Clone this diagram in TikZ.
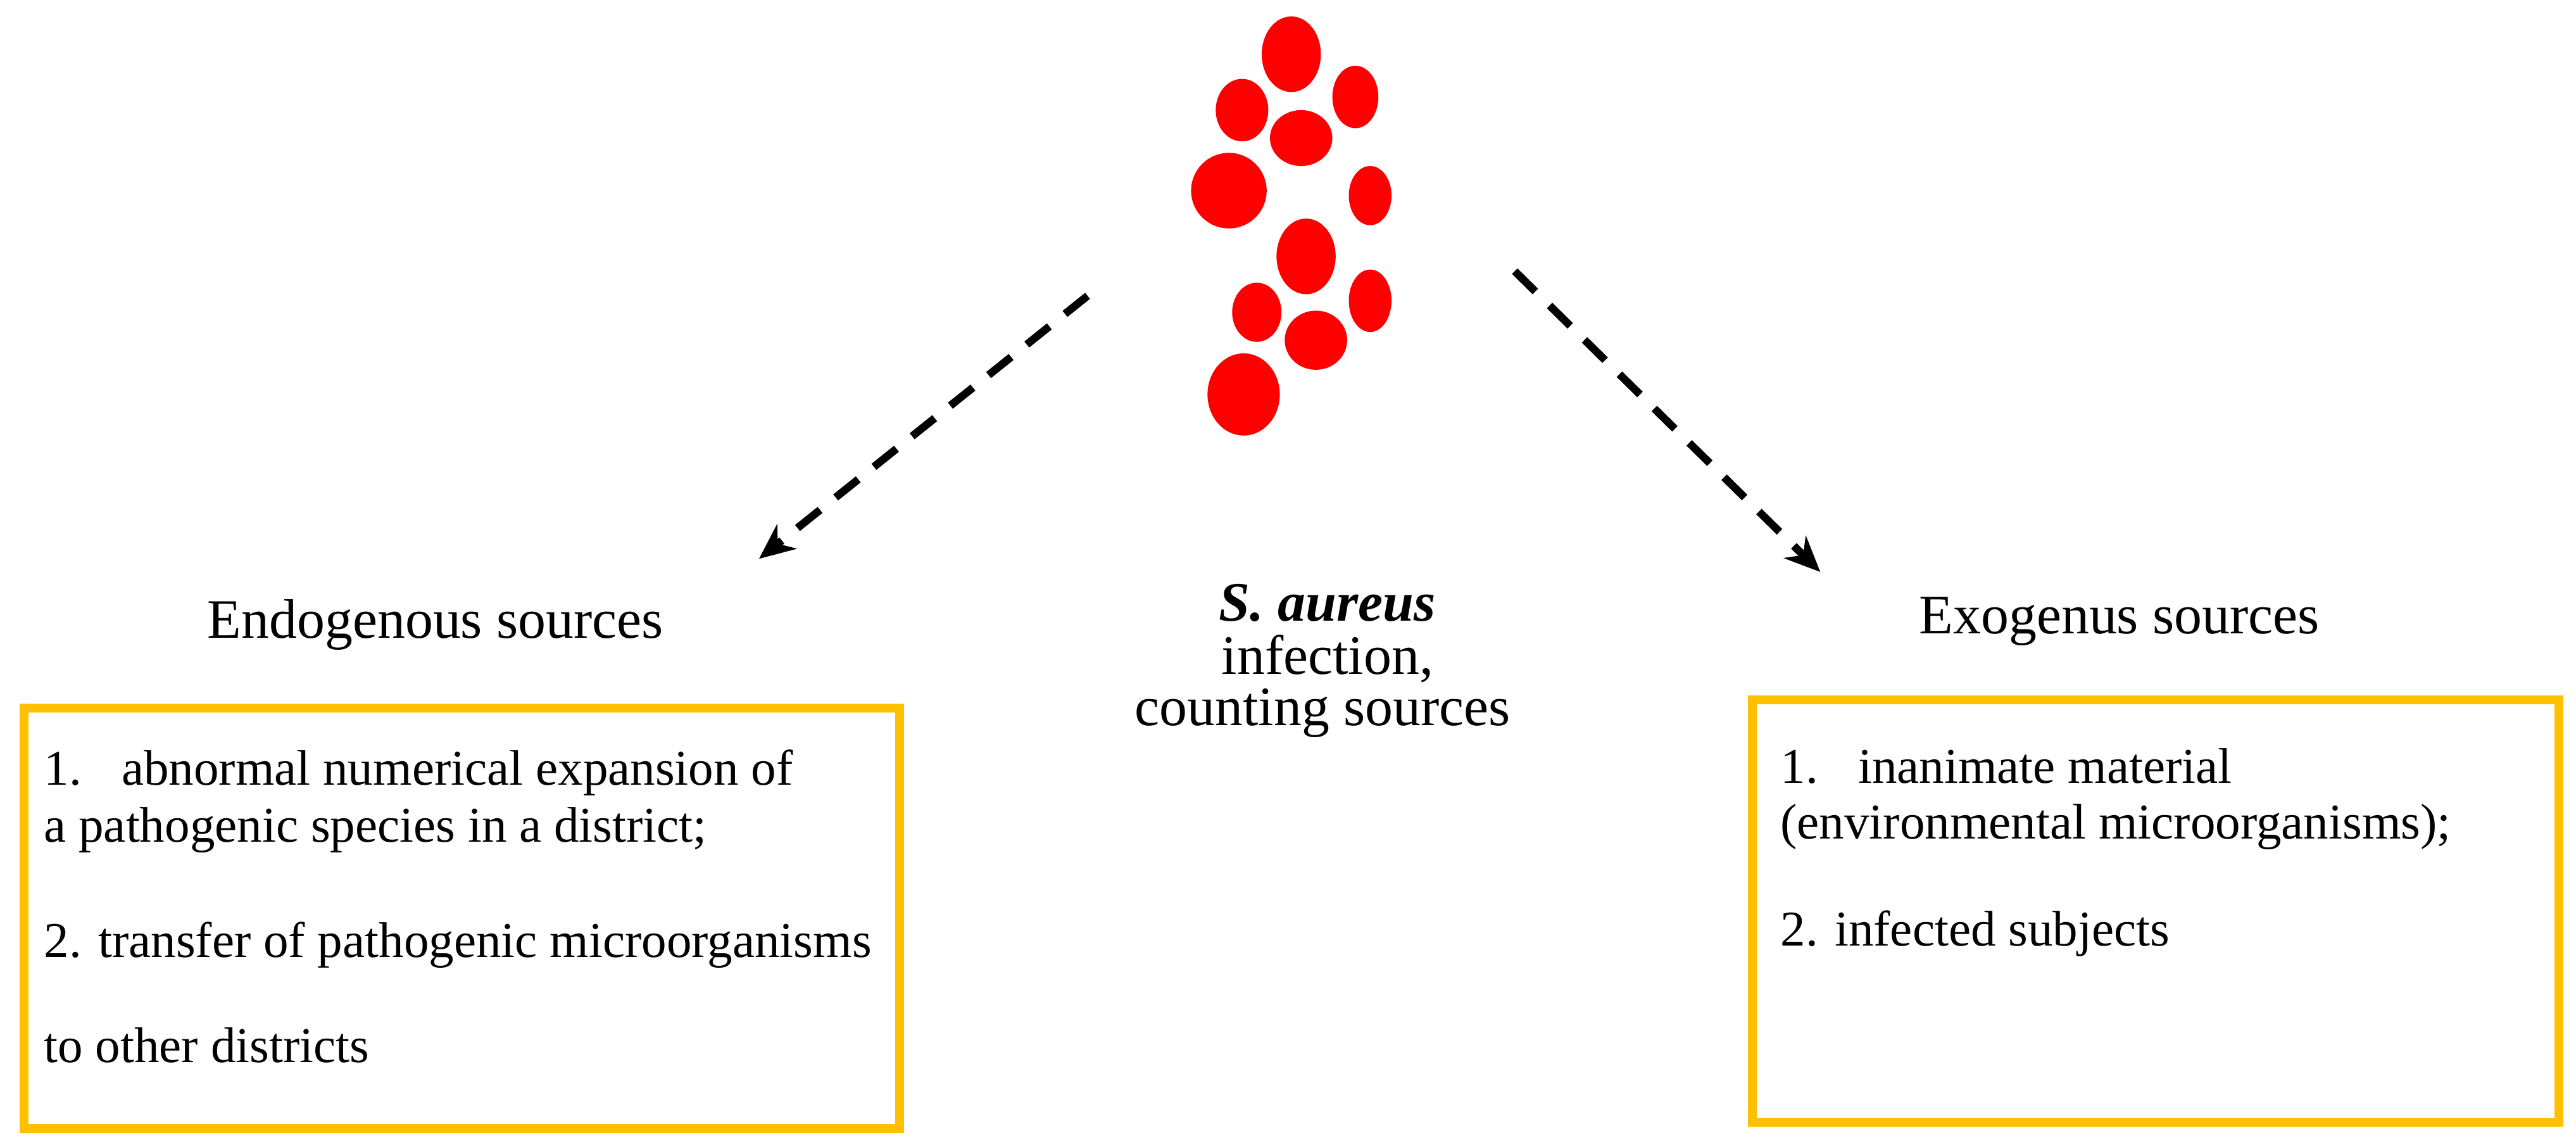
\documentclass[tikz,border=0pt]{standalone}
\usepackage{fontspec}
\usetikzlibrary{arrows.meta}
\setmainfont{Liberation Serif}
\begin{document}
\begin{tikzpicture}[x=0.02595cm,y=-0.02595cm,
 box/.style={draw={rgb,255:red,255;green,192;blue,0},line width=4pt},
 arr/.style={line width=3.5pt,dash pattern=on 13pt off 9pt,-{Stealth[length=16pt,width=14pt]}},
 head/.style={font=\fontsize{25}{29}\selectfont,inner sep=0pt},
 txt/.style={font=\fontsize{22.5}{26}\selectfont,anchor=west}]
\useasboundingbox (0,0) rectangle (1568,693.6);
\foreach \x/\y/\a/\b in {786/33/18/23,756/67/16/19,825/59/14/19,792/84/19/17,748/116/23/23,834/119/13/18,795/156/18/23,765/190/15/18,834/183/13/19,801/207/19/18,757/240/22/25}
 \fill[red] (\x,\y) ellipse [x radius=\a, y radius=\b];
\coordinate (la) at (662,180); \coordinate (lb) at (462,340);
\coordinate (ra) at (922,165); \coordinate (rb) at (1108,348);
\draw[arr] (la) -- (lb);
\draw[arr] (ra) -- (rb);
\node[box,minimum width=533*0.02595cm,minimum height=256*0.02595cm,anchor=north west] (lbox) at (12,428) {};
\node[box,minimum width=491*0.02595cm,minimum height=257*0.02595cm,anchor=north west] (rbox) at (1064,423) {};
\node[head] (lh) at (265,380) {Endogenous sources};
\node[head] (rh) at (1290,378) {Exogenus sources};
\node[head] (c1) at (808,367) {\textbf{\textit{S. aureus}}};
\node[head] (c2) at (808,401) {infection,};
\node[head] (c3) at (805,434) {counting sources};
\node[txt] (l1) at (22,470) {1.\hspace{0.8em}abnormal numerical expansion of};
\node[txt] (l2) at (22,505) {a pathogenic species in a district;};
\node[txt] (l3) at (22,575) {2. transfer of pathogenic microorganisms};
\node[txt] (l4) at (22,636) {to other districts};
\node[txt] (r1) at (1079,466) {1.\hspace{0.8em}inanimate material};
\node[txt] (r2) at (1079,503) {(environmental microorganisms);};
\node[txt] (r3) at (1079,568) {2. infected subjects};
\end{tikzpicture}
\end{document}
